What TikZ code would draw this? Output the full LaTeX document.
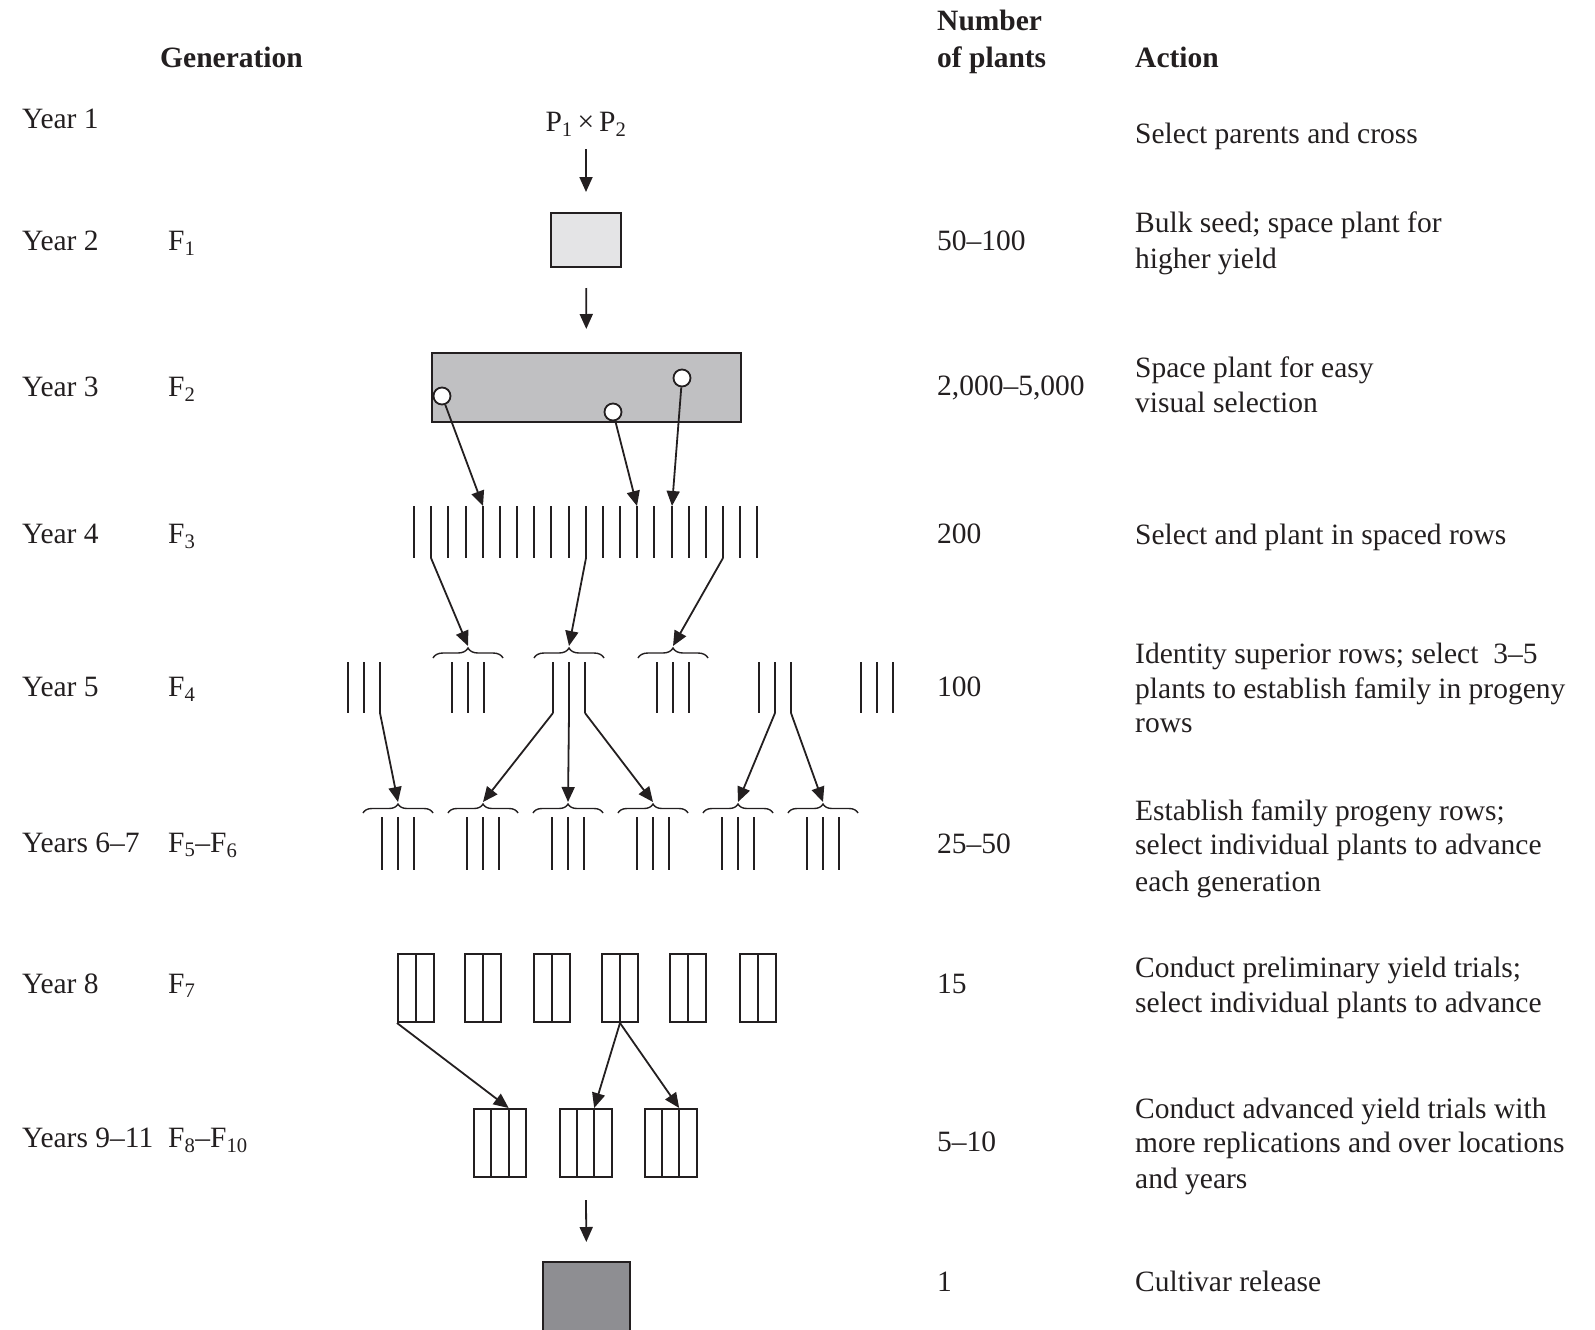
\documentclass[tikz,border=0pt]{standalone}
\usepackage{fontspec}
\setmainfont{Liberation Serif}
\usetikzlibrary{arrows.meta,decorations.pathreplacing}
\definecolor{ink}{RGB}{35,31,32}
\definecolor{boxlight}{RGB}{228,228,230}
\definecolor{boxmid}{RGB}{192,192,194}
\definecolor{boxdark}{RGB}{142,142,146}
\begin{document}
\begin{tikzpicture}[x=1pt,y=-1pt,
  txt/.style={anchor=base west,inner sep=0pt,text=ink,font=\fontsize{29.5}{35}\selectfont},
  hdr/.style={txt,font=\fontsize{29.5}{35}\selectfont\bfseries},
  arr/.style={draw=ink,line width=1.8pt,-{Triangle[length=15pt,width=13pt]}},
  plant/.style={draw=ink,line width=2pt},
  brc/.style={draw=ink,line width=1.4pt,decorate,decoration={brace,amplitude=#1}},
  box/.style={draw=ink,line width=2pt,inner sep=0pt},
  divider/.style={draw=ink,line width=2pt},
  seed/.style={circle,draw=ink,fill=white,line width=1.8pt,minimum size=17pt,inner sep=0pt},
]
\useasboundingbox (0,0) rectangle (1595,1330);

% ---------- headers ----------
\node[hdr] (hgen) at (160,67) {Generation};
\node[hdr] (hnum1) at (937,31) {Number};
\node[hdr] (hnum2) at (937,67) {of plants};
\node[hdr] (hact) at (1135,67) {Action};

% ---------- year column ----------
\node[txt] (y1) at (22,128) {Year 1};
\node[txt] (y2) at (22,250) {Year 2};
\node[txt] (y3) at (22,396) {Year 3};
\node[txt] (y4) at (22,543) {Year 4};
\node[txt] (y5) at (22,696) {Year 5};
\node[txt] (y6) at (22,852) {Years 6–7};
\node[txt] (y8) at (22,993) {Year 8};
\node[txt] (y9) at (22,1147) {Years 9–11};

% ---------- generation column ----------
\node[txt] (g1) at (168,250) {F\textsubscript{1}};
\node[txt] (g2) at (168,396) {F\textsubscript{2}};
\node[txt] (g3) at (168,543) {F\textsubscript{3}};
\node[txt] (g4) at (168,696) {F\textsubscript{4}};
\node[txt] (g5) at (168,852) {F\textsubscript{5}–F\textsubscript{6}};
\node[txt] (g7) at (168,993) {F\textsubscript{7}};
\node[txt] (g8) at (168,1147) {F\textsubscript{8}–F\textsubscript{10}};

% ---------- number column ----------
\node[txt] (n2) at (937,250) {50–100};
\node[txt] (n3) at (937,395) {2,000–5,000};
\node[txt] (n4) at (937,543) {200};
\node[txt] (n5) at (937,696) {100};
\node[txt] (n6) at (937,853) {25–50};
\node[txt] (n8) at (937,993) {15};
\node[txt] (n9) at (937,1151) {5–10};
\node[txt] (n10) at (937,1291) {1};

% ---------- action column ----------
\node[txt] (a1) at (1135,143) {Select parents and cross};
\node[txt] (a2a) at (1135,232) {Bulk seed; space plant for};
\node[txt] (a2b) at (1135,268) {higher yield};
\node[txt] (a3a) at (1135,377) {Space plant for easy};
\node[txt] (a3b) at (1135,412) {visual selection};
\node[txt] (a4) at (1135,544) {Select and plant in spaced rows};
\node[txt] (a5a) at (1135,663) {Identity superior rows; select\ \ 3–5};
\node[txt] (a5b) at (1135,698) {plants to establish family in progeny};
\node[txt] (a5c) at (1135,732) {rows};
\node[txt] (a6a) at (1135,820) {Establish family progeny rows;};
\node[txt] (a6b) at (1135,854) {select individual plants to advance};
\node[txt] (a6c) at (1135,891) {each generation};
\node[txt] (a8a) at (1135,977) {Conduct preliminary yield trials;};
\node[txt] (a8b) at (1135,1012) {select individual plants to advance};
\node[txt] (a9a) at (1135,1118) {Conduct advanced yield trials with};
\node[txt] (a9b) at (1135,1152) {more replications and over locations};
\node[txt] (a9c) at (1135,1188) {and years};
\node[txt] (a10) at (1135,1291) {Cultivar release};

% ---------- Year 1 - 3 ----------
\node[txt,anchor=base] (cross) at (586,131) {P\textsubscript{1}\,×\,P\textsubscript{2}};
\node[box,fill=boxlight,minimum width=70pt,minimum height=54pt] (f1) at (586,240) {};
\node[box,fill=boxmid,minimum width=309pt,minimum height=69pt] (f2) at (586.5,387.5) {};
\draw[arr,shorten <=13pt,shorten >=20pt] (cross) -- (f1);
\draw[arr,shorten <=20pt,shorten >=23pt] (f1) -- (f2);
\node[seed] (c1) at (442,396) {};
\node[seed] (c2) at (613,412) {};
\node[seed] (c3) at (682,378) {};

% ---------- F3 rows ----------
\foreach \i in {0,...,20} {
  \pgfmathsetmacro{\xx}{round(414+17.17*\i)}
  \coordinate (r3t\i) at (\xx,506);
  \coordinate (r3b\i) at (\xx,558);
  \draw[plant] (r3t\i) -- (r3b\i);
}
\draw[arr] (c1) -- (r3t4);
\draw[arr] (c2) -- (r3t13);
\draw[arr] (c3) -- (r3t15);

% ---------- F4 rows ----------
\foreach \k/\cx in {1/364,2/468,3/569,4/673,5/775,6/877} {
  \foreach \j/\dx in {1/-16,2/0,3/16} {
    \coordinate (f4t\k\j) at ({\cx+\dx},662);
    \coordinate (f4b\k\j) at ({\cx+\dx},713);
    \draw[plant] (f4t\k\j) -- (f4b\k\j);
  }
}
\foreach \k/\cx in {2/468,3/569,4/673} {
  \coordinate (f4tip\k) at (\cx,646);
  \draw[brc=10pt] ({\cx-35},658) -- ({\cx+35},658);
}
\draw[arr] (r3b1) -- (f4tip2);
\draw[arr] (r3b10) -- (f4tip3);
\draw[arr] (r3b18) -- (f4tip4);

% ---------- F5-F6 rows ----------
\foreach \k/\cx in {1/398,2/483,3/568,4/653,5/738,6/823} {
  \coordinate (f5tip\k) at (\cx,802);
  \draw[brc=9pt] ({\cx-35},813) -- ({\cx+35},813);
  \foreach \j/\dx in {1/-16,2/0,3/16} {
    \draw[plant] ({\cx+\dx},817) -- ({\cx+\dx},870);
  }
}
\draw[arr] (f4b13) -- (f5tip1);
\draw[arr] (f4b31) -- (f5tip2);
\draw[arr] (f4b32) -- (f5tip3);
\draw[arr] (f4b33) -- (f5tip4);
\draw[arr] (f4b52) -- (f5tip5);
\draw[arr] (f4b53) -- (f5tip6);

% ---------- F7 plots ----------
\foreach \n/\cx in {a/416,b/483,c/552,d/620,e/688,f/758} {
  \node[box,minimum width=36pt,minimum height=68pt] (f7\n) at (\cx,988) {};
  \draw[divider] (f7\n.north) -- (f7\n.south);
}

% ---------- F8-F10 plots ----------
\foreach \n/\cx in {a/500,b/585.5,c/670.5} {
  \node[box,minimum width=52pt,minimum height=68pt] (f8\n) at (\cx,1143) {};
  \draw[divider] ([xshift=-8.67pt]f8\n.north) -- ([xshift=-8.67pt]f8\n.south);
  \draw[divider] ([xshift=8.67pt]f8\n.north) -- ([xshift=8.67pt]f8\n.south);
}
\draw[arr] (f7a.south west) -- ([xshift=8.67pt]f8a.north);
\draw[arr] (f7d.south) -- ([xshift=8.67pt]f8b.north);
\draw[arr] (f7d.south) -- ([xshift=8.67pt]f8c.north);

% ---------- release ----------
\coordinate (rel) at (586.5,1262);
\fill[boxdark] (543,1262) rectangle (630,1330);
\draw[divider] (543,1331) |- (630,1262) -- (630,1331);
\draw[arr,shorten <=22pt,shorten >=20pt] (f8b) -- (rel);
\end{tikzpicture}
\end{document}
